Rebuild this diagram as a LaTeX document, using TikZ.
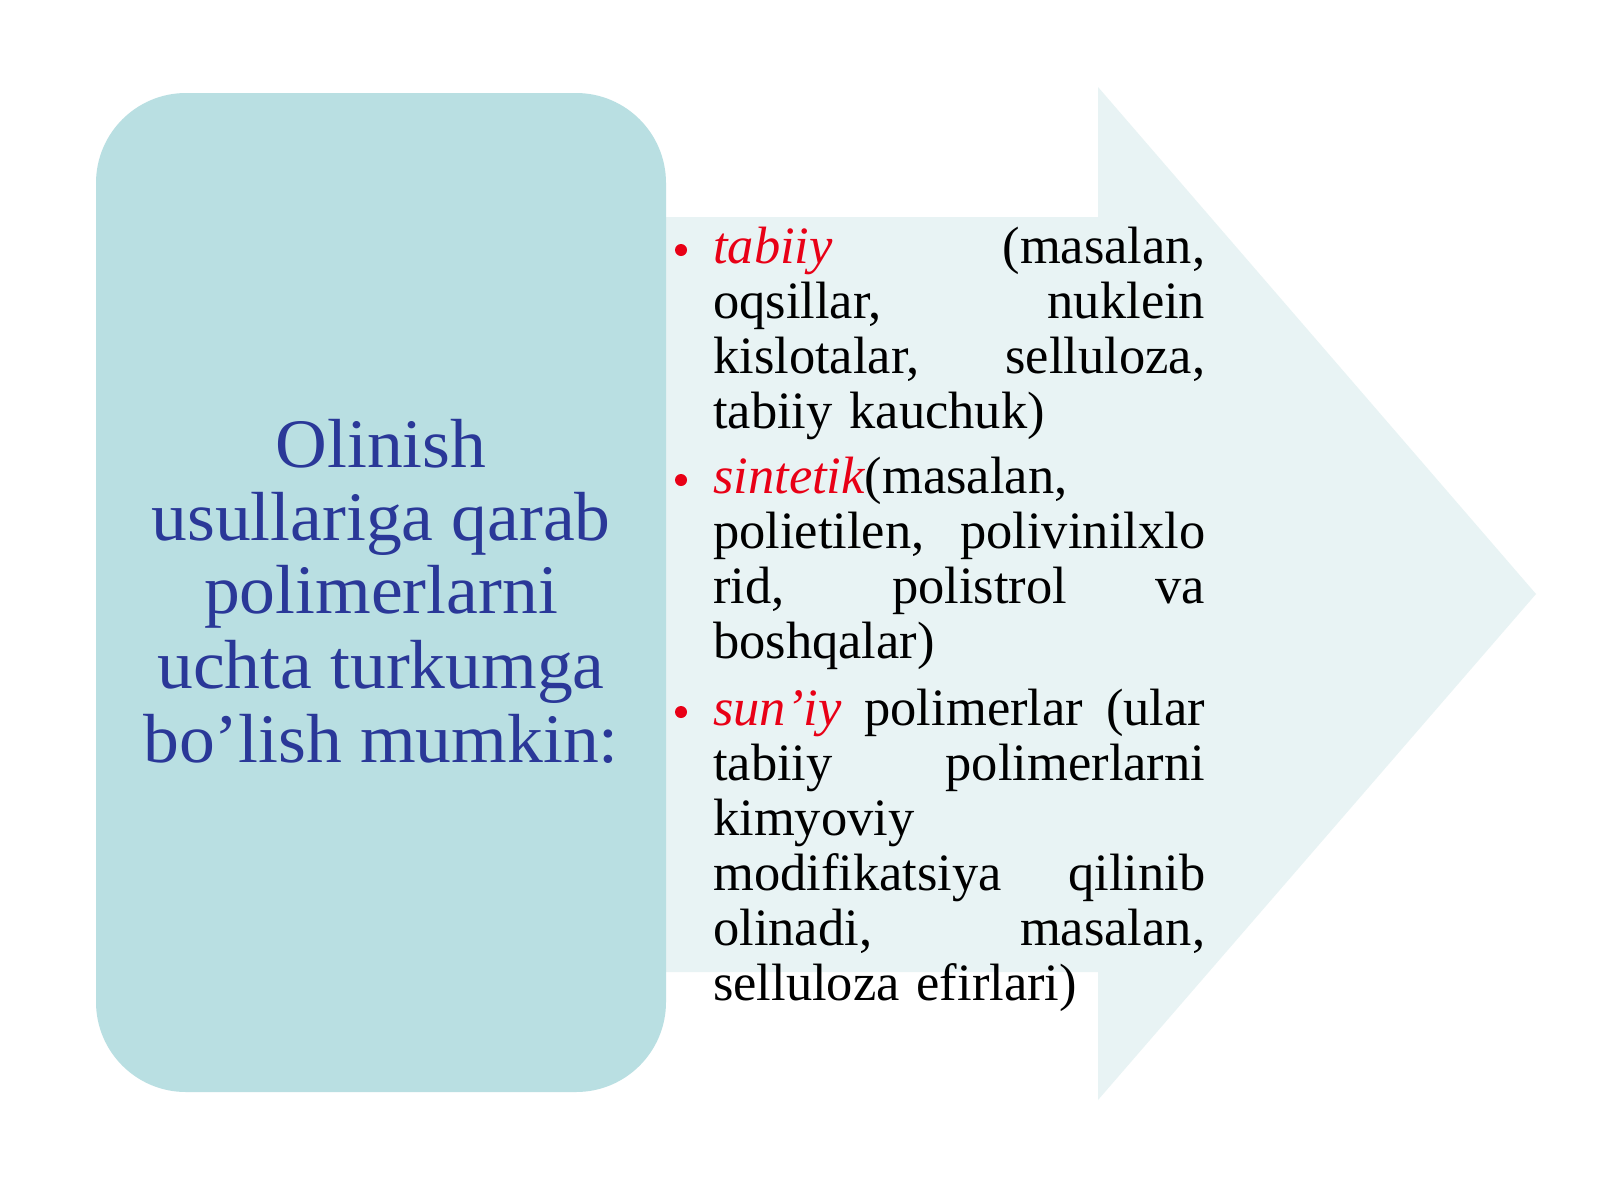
\documentclass[tikz,border=0pt]{standalone}
\usepackage{fontspec}
\setmainfont{Liberation Serif}
\newfontfamily\titlefont[FakeStretch=1.03]{Liberation Serif}
\definecolor{boxfill}{RGB}{185,223,226}
\definecolor{arrowfill}{RGB}{232,243,244}
\definecolor{titleblue}{RGB}{42,56,152}
\definecolor{keyred}{RGB}{232,0,22}
\tikzset{
  bodyline/.style={anchor=base west, inner sep=0pt, font=\fontsize{52.5}{55}\selectfont, text=black},
  titleline/.style={anchor=base, inner sep=0pt, font=\titlefont\fontsize{69.5}{73.7}\selectfont, text=titleblue},
  bulletdot/.style={circle, fill=keyred, inner sep=0pt, minimum size=12pt},
}
\newcommand{\jline}[1]{\makebox[492pt][s]{#1}}
\newcommand{\keyword}[1]{\textcolor{keyred}{\itshape #1}}
\begin{document}
\begin{tikzpicture}[x=1pt,y=-1pt]
\useasboundingbox (0,0) rectangle (1600,1200);
\fill[white] (0,0) rectangle (1600,1200);
% big light arrow
\fill[arrowfill] (600,217) -- (1098,217) -- (1098,87) -- (1536,594) -- (1098,1100) -- (1098,972) -- (600,972) -- cycle;
% rounded box
\fill[boxfill, rounded corners=90pt] (96,93) rectangle (666,1092);
% title text
\node[titleline] (t1) at (381,467) {Olinish};
\node[titleline] (t2) at (381,540) {usullariga qarab};
\node[titleline] (t3) at (381,613) {polimerlarni};
\node[titleline] (t4) at (381,688) {uchta turkumga};
\node[titleline] (t5) at (381,762) {bo’lish mumkin:};
% bullets
\node[bulletdot] (b1) at (681,250) {};
\node[bulletdot] (b2) at (681,480) {};
\node[bulletdot] (b3) at (681,712) {};
% body lines
\node[bodyline] (l1)  at (713,263)  {\jline{\keyword{tabiiy} (masalan,}};
\node[bodyline] (l2)  at (713,318)  {\jline{oqsillar, nuklein}};
\node[bodyline] (l3)  at (713,373)  {\jline{kislotalar, selluloza,}};
\node[bodyline] (l4)  at (713,428)  {tabiiy\hspace{0.32em}kauchuk)};
\node[bodyline] (l5)  at (713,493)  {\keyword{sintetik}(masalan,};
\node[bodyline] (l6)  at (713,548)  {\jline{polietilen, polivinilxlo}};
\node[bodyline] (l7)  at (713,603)  {\jline{rid, polistrol va}};
\node[bodyline] (l8)  at (713,658)  {boshqalar)};
\node[bodyline] (l9)  at (713,725)  {\jline{\keyword{sun’iy} polimerlar (ular}};
\node[bodyline] (l10) at (713,780)  {\jline{tabiiy polimerlarni}};
\node[bodyline] (l11) at (713,835)  {kimyoviy};
\node[bodyline] (l12) at (713,890)  {\jline{modifikatsiya qilinib}};
\node[bodyline] (l13) at (713,945)  {\jline{olinadi, masalan,}};
\node[bodyline] (l14) at (713,1000) {selluloza\hspace{0.32em}efirlari)};
\end{tikzpicture}
\end{document}
